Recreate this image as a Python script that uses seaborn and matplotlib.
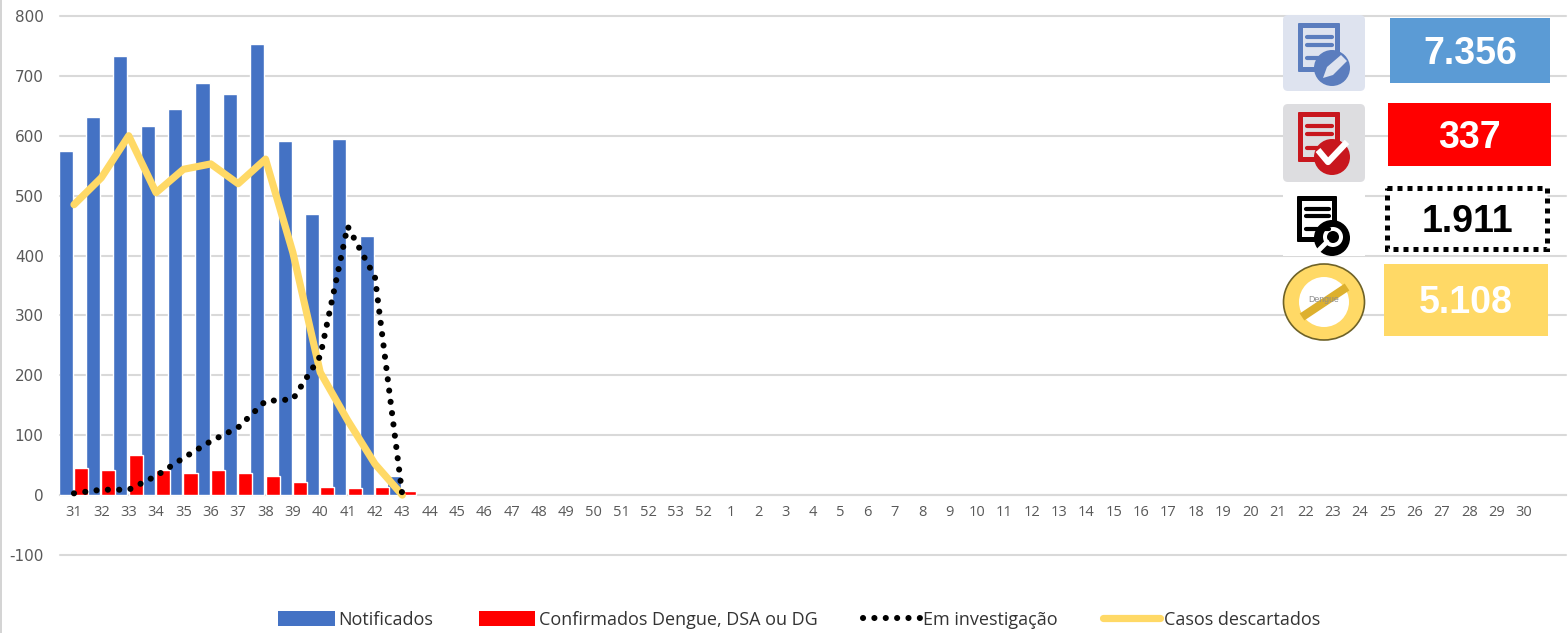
#!/usr/bin/env python3
"""Casos de dengue por semana epidemiologica"""

import numpy as np
import pandas as pd
import matplotlib
matplotlib.use('Agg')
import matplotlib.pyplot as plt
import seaborn as sns
from matplotlib.lines import Line2D
from matplotlib.patches import Circle, Ellipse, FancyBboxPatch, Patch, Polygon, Rectangle

# Data
week_labels = [str(w) for w in range(31, 54)] + ['52'] + [str(w) for w in range(1, 31)]
notificados = [574, 631, 734, 616, 645, 688, 669, 754, 592, 470, 595, 432, 32]
confirmados = [46, 42, 67, 42, 37, 42, 37, 32, 22, 14, 12, 14, 7]
investigacao = [3, 9, 9, 32, 62, 90, 113, 157, 160, 232, 449, 364, 0]
descartados = [485, 530, 600, 505, 544, 553, 520, 561, 405, 205, 125, 52, 0]
totals = ['7.356', '337', '1.911', '5.108']

W, H = 1568, 633
BLUE = '#4472C4'
RED = '#FF0000'
YELLOW = '#FFD966'
GRID = '#D9D9D9'
TEXT = '#595959'
FONT = 'Open Sans'
DOTS = (0, (0.01, 1.85))


def pad(values):
    return list(values) + [np.nan] * (len(week_labels) - len(values))


def draw_doc(ov, x0, y0, x1, y1, color, inner):
    """Document glyph with three text rows"""
    ov.add_patch(FancyBboxPatch((x0 + 1, y0 + 1), x1 - x0 - 2, y1 - y0 - 2,
                                boxstyle='round,pad=1', fc=color, ec='none'))
    ov.add_patch(Rectangle((x0 + 5, y0 + 5), x1 - x0 - 10, y1 - y0 - 10, fc=inner, ec='none'))
    for frac in (0.28, 0.44, 0.72):
        yy = y0 + (y1 - y0) * frac
        ov.plot([x0 + 9, x1 - 8], [yy, yy], color=color, lw=3, solid_capstyle='round')


def draw_icons(ov):
    # notificados
    ov.add_patch(FancyBboxPatch((1288, 20), 72, 66, boxstyle='round,pad=5',
                                fc='#DEE3EF', ec='none'))
    draw_doc(ov, 1298, 23, 1340, 72, '#5B7DBE', '#DEE3EF')
    ov.add_patch(Circle((1332, 68), 18, fc='#5B7DBE', ec='none'))
    ov.add_patch(Polygon([(1323, 78), (1327, 67), (1341, 55), (1347, 61), (1333, 75)],
                         fc='#DEE3EF', ec='none'))
    # confirmados
    ov.add_patch(FancyBboxPatch((1288, 109), 72, 68, boxstyle='round,pad=5',
                                fc='#DDDDE0', ec='none'))
    draw_doc(ov, 1298, 112, 1340, 162, '#C8171E', '#DDDDE0')
    ov.add_patch(Circle((1332, 157), 18, fc='#C8171E', ec='none'))
    ov.plot([1318, 1328, 1347], [150, 162, 142], color='white', lw=4.5, solid_capstyle='butt')
    # em investigacao
    ov.add_patch(Rectangle((1283, 194), 82, 62, fc='white', ec='none'))
    draw_doc(ov, 1297, 196, 1337, 242, 'black', 'white')
    ov.add_patch(Circle((1332, 238), 18, fc='black', ec='none'))
    ov.add_patch(Circle((1333, 237), 10, fc='white', ec='none'))
    ov.add_patch(Circle((1333, 237), 6, fc='black', ec='none'))
    ov.plot([1319, 1327], [250, 242], color='white', lw=3.5)
    # descartados
    ov.add_patch(Ellipse((1324, 302), 81, 76, fc=YELLOW, ec='#6E6228', lw=1.2))
    ov.add_patch(Circle((1324, 302), 25, fc='white', ec='none'))
    ov.plot([1302, 1347], [317, 287], color='#DDB02E', lw=6, solid_capstyle='butt')
    ov.text(1324, 300, 'Dengue', fontsize=6.3, color='#8C8C8C', ha='center', va='center',
            family='Liberation Sans')


def draw_totals(ov):
    boxes = [(1390, 18, 160, 65, '#5B9BD5', 'white'),
             (1388, 103, 163, 63, RED, 'white'),
             (1387, 188, 160, 61, 'white', 'black'),
             (1384, 264, 164, 72, YELLOW, 'white')]
    for (x, y, w, h, fc, tc), value in zip(boxes, totals):
        if fc == 'white':
            ov.add_patch(Rectangle((x, y), w, h, fc='white', ec='black', lw=3.6,
                                   linestyle=(0, (1, 1))))
        else:
            ov.add_patch(Rectangle((x, y), w, h, fc=fc, ec='none'))
        ov.text(x + w / 2, y + h / 2 + 3, value, color=tc, fontsize=27, fontweight='bold',
                ha='center', va='center', family='Liberation Sans')


def main():
    sns.set_theme(style='white')
    plt.rcParams['font.family'] = [FONT, 'DejaVu Sans']
    plt.rcParams['axes.unicode_minus'] = False

    positions = list(range(len(week_labels)))
    bars = pd.DataFrame({
        'semana': positions * 2,
        'casos': pad(notificados) + pad(confirmados),
        'serie': ['Notificados'] * len(positions) + ['Confirmados Dengue, DSA ou DG'] * len(positions),
    })
    lines = pd.DataFrame({
        'semana': positions,
        'investigacao': pad(investigacao),
        'descartados': pad(descartados),
    })

    fig = plt.figure(figsize=(W / 100, H / 100), dpi=100, facecolor='white')
    ax = fig.add_axes([60.3 / W, 1 - 555 / H, (1566 - 60.3) / W, (555 - 16) / H])

    sns.barplot(data=bars, x='semana', y='casos', hue='serie', order=positions,
                palette=[BLUE, RED], width=1.12, gap=0.0, saturation=1, legend=False,
                ax=ax, zorder=3)
    # small white seam between the two bars of a week
    for patch in ax.patches:
        patch.set_width(patch.get_width() * 0.92)
    sns.lineplot(data=lines, x='semana', y='investigacao', color='black', linewidth=4.4,
                 linestyle=DOTS, dash_capstyle='round', errorbar=None, ax=ax, zorder=5)
    sns.lineplot(data=lines, x='semana', y='descartados', color=YELLOW, linewidth=5.2,
                 errorbar=None, ax=ax, zorder=4, solid_joinstyle='round')

    ax.set_xlim(-0.5, 54.53)
    ax.set_ylim(-100, 800)
    ax.set_xlabel('')
    ax.set_ylabel('')
    ax.set_yticks(range(-100, 801, 100))
    ax.set_xticks(positions)
    ax.set_xticklabels(week_labels)
    ax.grid(True, axis='y', color=GRID, linewidth=1.5, zorder=0)
    ax.set_axisbelow(True)
    for gl in ax.get_ygridlines():
        gl.set_clip_on(False)
    for side in ('top', 'left', 'right'):
        ax.spines[side].set_visible(False)
    ax.spines['bottom'].set_position(('data', 0))
    ax.spines['bottom'].set_color(GRID)
    ax.spines['bottom'].set_linewidth(1.5)
    ax.tick_params(axis='x', length=0, pad=7, labelsize=10.5, labelcolor=TEXT)
    ax.tick_params(axis='y', length=0, pad=12, labelsize=11, labelcolor=TEXT)
    for label in ax.get_yticklabels():
        label.set_family('DejaVu Sans')

    handles = [Patch(fc=BLUE, ec='none'), Patch(fc=RED, ec='none'),
               Line2D([], [], color='black', lw=4.4, linestyle=DOTS, dash_capstyle='round'),
               Line2D([], [], color=YELLOW, lw=5.2)]
    names = ['Notificados', 'Confirmados Dengue, DSA ou DG', 'Em investigação', 'Casos descartados']
    fig.legend(handles, names, loc='center', bbox_to_anchor=(799 / W, 1 - 620 / H), ncol=4,
               frameon=False, fontsize=13, handlelength=3.15, handleheight=0.9,
               handletextpad=0.2, columnspacing=2.5, labelcolor='#333333')

    # icons and totals use a pixel overlay
    ov = fig.add_axes([0, 0, 1, 1], zorder=10)
    ov.set_xlim(0, W)
    ov.set_ylim(H, 0)
    ov.axis('off')
    ov.add_patch(Rectangle((0, 0), 2, H, fc='#D4D4D4', ec='none'))
    draw_icons(ov)
    draw_totals(ov)

    fig.savefig('out.png', dpi=100, facecolor='white')
    plt.close(fig)


if __name__ == "__main__":
    main()
